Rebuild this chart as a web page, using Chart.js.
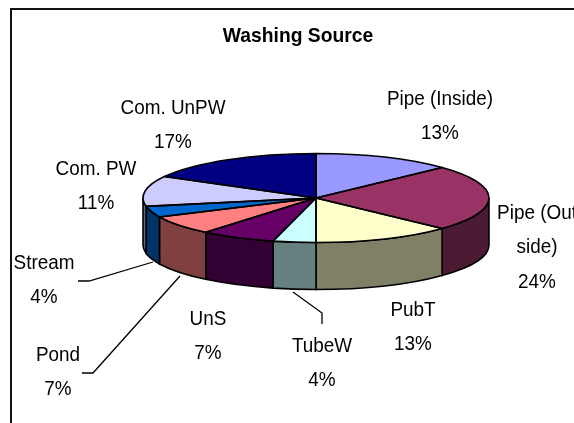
<!DOCTYPE html>
<html>
<head>
<meta charset="utf-8">
<title>Washing Source</title>
<script src="https://cdn.jsdelivr.net/npm/chart.js@4/dist/chart.umd.min.js"></script>
<style>
  body { margin: 0; background: #fff; }
  canvas { display: block; }
</style>
</head>
<body>
<canvas id="washChart" width="574" height="423"></canvas>
<script>
const chartTitle = "Washing Source";
const categories = ["Pipe (Inside)", "Pipe (Outside)", "PubT", "TubeW", "UnS", "Pond", "Stream", "Com. PW", "Com. UnPW"];
const shares = [13, 24, 13, 4, 7, 7, 4, 11, 17];
const topColors = ["#9999FF", "#993366", "#FFFFCC", "#CCFFFF", "#660066", "#FF8080", "#0066CC", "#CCCCFF", "#000080"];
const sideColors = ["#4D4D80", "#4D1A33", "#808066", "#668080", "#330033", "#804040", "#003366", "#666680", "#000040"];

// where each label sits, first line centre
const labelSpots = [
  { x: 440, y: 99 },
  { x: 537, y: 213, lines: ["Pipe (Out", "side)"] },
  { x: 413, y: 310 },
  { x: 322, y: 346 },
  { x: 208, y: 319 },
  { x: 58, y: 355 },
  { x: 44, y: 263 },
  { x: 96, y: 169 },
  { x: 173, y: 108 }
];
const leaderLines = [
  [[78, 281], [89, 281], [153, 262]],
  [[82, 373], [93, 373], [180, 276]],
  [[322, 324], [322, 313], [293, 292]]
];

const pieCentre = { x: 316, y: 198 };
const squash = 44.5 / 173;
const depth = 47;
const lineGap = 34.5;
const textNarrow = 0.9;
const edgeColor = "#000";

// tilts the flat pie and adds the wall, chart.js has no 3d pie
const tiltPlugin = {
  id: "tilt",
  beforeDraw(chart) {
    const ctx = chart.ctx;
    ctx.save();
    ctx.strokeStyle = "#111";
    ctx.lineWidth = 2;
    ctx.beginPath();
    ctx.moveTo(11, 423);
    ctx.lineTo(11, 9);
    ctx.lineTo(574, 9);
    ctx.stroke();
    ctx.restore();
  },
  beforeDatasetsDraw(chart) {
    const ctx = chart.ctx;
    const arcs = chart.getDatasetMeta(0).data;
    const r = arcs[0].outerRadius;
    ctx.save();
    ctx.lineWidth = 1.6;
    ctx.strokeStyle = edgeColor;
    arcs.forEach((arc, i) => {
      const from = Math.max(arc.startAngle, 0);
      const to = Math.min(arc.endAngle, Math.PI);
      if (from >= to) return;
      ctx.beginPath();
      ctx.ellipse(pieCentre.x, pieCentre.y, r, r * squash, 0, from, to);
      ctx.lineTo(pieCentre.x + r * Math.cos(to), pieCentre.y + r * squash * Math.sin(to) + depth);
      ctx.ellipse(pieCentre.x, pieCentre.y + depth, r, r * squash, 0, to, from, true);
      ctx.closePath();
      ctx.fillStyle = sideColors[i];
      ctx.fill();
      ctx.stroke();
    });
    ctx.restore();

    ctx.save();
    ctx.translate(pieCentre.x, pieCentre.y);
    ctx.scale(1, squash);
    ctx.translate(-arcs[0].x, -arcs[0].y);
  },
  afterDatasetsDraw(chart) {
    const ctx = chart.ctx;
    ctx.restore();
    const arcs = chart.getDatasetMeta(0).data;
    const r = arcs[0].outerRadius;
    ctx.save();
    ctx.lineWidth = 1.6;
    ctx.strokeStyle = edgeColor;
    ctx.lineJoin = "round";
    arcs.forEach((arc) => {
      ctx.beginPath();
      ctx.moveTo(pieCentre.x, pieCentre.y);
      ctx.ellipse(pieCentre.x, pieCentre.y, r, r * squash, 0, arc.startAngle, arc.endAngle);
      ctx.closePath();
      ctx.stroke();
    });
    ctx.restore();
  },
  afterDraw(chart) {
    const ctx = chart.ctx;
    ctx.save();
    ctx.strokeStyle = "#000";
    ctx.lineWidth = 1.3;
    leaderLines.forEach((pts) => {
      ctx.beginPath();
      pts.forEach((p, i) => (i ? ctx.lineTo(p[0], p[1]) : ctx.moveTo(p[0], p[1])));
      ctx.stroke();
    });
    ctx.fillStyle = "#000";
    ctx.font = "21px 'Liberation Sans', Arial, sans-serif";
    ctx.textAlign = "center";
    ctx.textBaseline = "middle";
    categories.forEach((name, i) => {
      const spot = labelSpots[i];
      const lines = (spot.lines || [name]).concat(shares[i] + "%");
      lines.forEach((text, n) => {
        ctx.save();
        ctx.translate(spot.x, spot.y + n * lineGap);
        ctx.scale(textNarrow, 1);
        ctx.fillText(text, 0, 0);
        ctx.restore();
      });
    });
    ctx.restore();
  }
};

new Chart(document.getElementById("washChart"), {
  type: "pie",
  data: {
    labels: categories,
    datasets: [{
      data: shares,
      backgroundColor: topColors,
      borderWidth: 0,
      radius: 173,
      clip: false
    }]
  },
  options: {
    responsive: false,
    animation: false,
    layout: { padding: { left: 22, right: 0, top: 0, bottom: 0 } },
    plugins: {
      legend: { display: false },
      tooltip: { enabled: false },
      title: {
        display: true,
        text: chartTitle,
        color: "#000",
        font: { family: "'Liberation Sans', Arial, sans-serif", size: 19.3, weight: "bold" },
        padding: { top: 25, bottom: 8 }
      }
    }
  },
  plugins: [tiltPlugin]
});
</script>
</body>
</html>
